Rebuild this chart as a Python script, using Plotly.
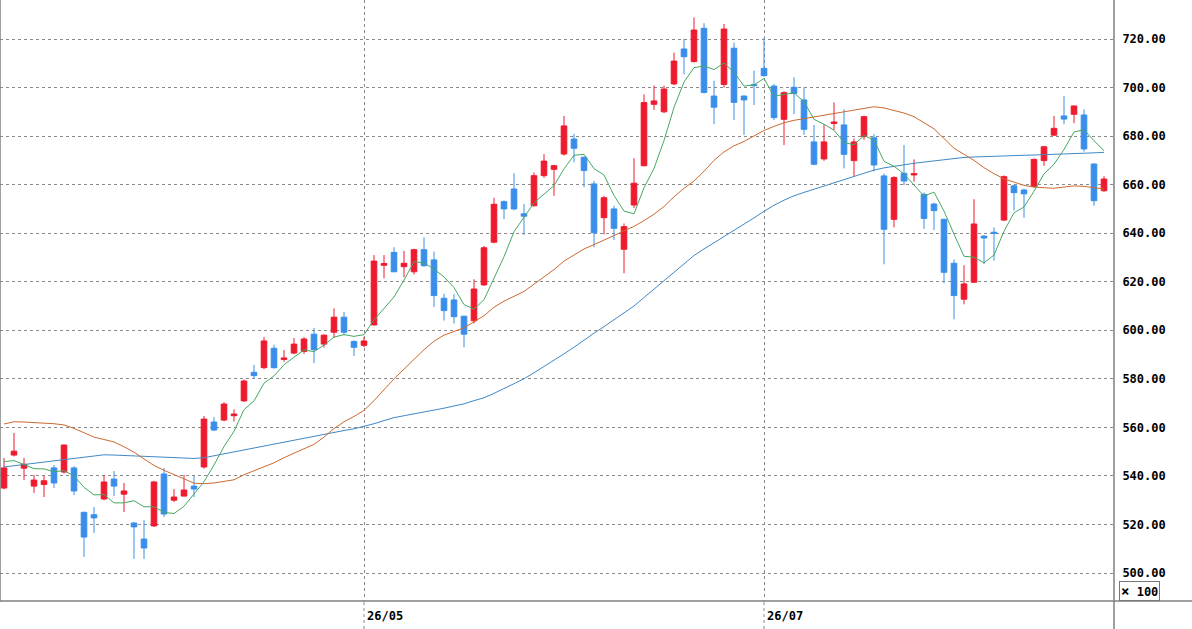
import plotly.graph_objects as go

# ---- data ----
opens = [535.0, 548.6, 543.2, 535.8, 536.5, 543.3, 541.6, 543.3, 525.0, 524.0,
         530.5, 538.7, 532.5, 520.6, 514.0, 519.4, 540.8, 530.0, 531.7, 535.8,
         543.7, 562.2, 563.0, 564.8, 570.9, 582.7, 584.6, 592.6, 588.0, 590.6,
         591.3, 598.4, 594.3, 599.2, 605.4, 595.4, 593.8, 602.2, 626.8, 632.1,
         626.2, 624.1, 633.2, 629.0, 613.2, 612.5, 605.8, 603.9, 618.7, 636.3,
         653.0, 658.2, 648.0, 651.3, 663.7, 666.3, 672.6, 678.8, 671.3, 660.3,
         646.4, 650.0, 633.4, 651.6, 667.8, 693.1, 690.0, 701.5, 715.9, 710.7,
         724.4, 696.5, 701.3, 716.2, 696.5, 701.2, 707.9, 700.6, 686.9, 700.1,
         694.9, 677.6, 670.6, 685.2, 684.6, 669.9, 679.8, 679.3, 663.6, 645.7,
         664.7, 664.0, 656.0, 652.0, 645.7, 627.6, 612.8, 619.8, 638.8, 640.4,
         645.4, 659.5, 657.8, 659.2, 669.9, 680.4, 688.3, 689.0, 688.7, 668.5,
         657.5]
highs = [547.4, 557.7, 547.4, 540.4, 540.0, 544.5, 553.0, 544.0, 525.3, 527.2,
         540.4, 542.0, 537.1, 521.0, 521.8, 538.0, 543.3, 534.6, 540.4, 540.0,
         564.7, 564.2, 570.4, 567.4, 579.8, 585.8, 597.2, 594.0, 591.9, 596.8,
         597.2, 601.0, 598.3, 609.0, 607.5, 595.8, 597.2, 631.0, 631.0, 634.2,
         632.7, 633.6, 638.3, 632.4, 615.0, 614.9, 606.0, 621.0, 634.8, 654.6,
         653.5, 664.7, 652.0, 665.0, 672.6, 668.2, 688.3, 680.9, 671.6, 661.5,
         655.4, 651.3, 644.0, 670.9, 697.2, 700.8, 700.8, 714.4, 720.0, 728.9,
         726.5, 702.8, 726.2, 718.5, 696.8, 707.0, 720.3, 701.5, 698.5, 704.2,
         700.1, 684.6, 684.9, 693.9, 691.0, 679.0, 688.4, 680.8, 664.5, 663.5,
         676.3, 670.4, 656.8, 652.5, 646.0, 629.2, 626.8, 654.0, 639.2, 642.4,
         663.8, 660.0, 658.3, 670.8, 676.0, 688.3, 696.5, 692.6, 691.0, 668.8,
         663.5]
lows = [534.5, 548.0, 538.3, 533.0, 531.3, 535.0, 541.0, 532.1, 506.6, 516.5,
        530.0, 531.7, 525.1, 505.8, 505.8, 519.0, 523.1, 529.2, 531.5, 531.3,
        543.0, 558.5, 562.5, 562.4, 570.5, 580.0, 584.0, 584.2, 587.0, 590.2,
        590.2, 586.5, 592.9, 596.9, 598.0, 589.4, 593.0, 602.0, 621.4, 624.0,
        621.9, 623.0, 626.2, 609.6, 604.0, 602.8, 593.0, 602.8, 618.3, 635.8,
        645.8, 649.5, 639.3, 651.0, 662.8, 655.4, 672.0, 669.2, 658.9, 634.2,
        639.5, 637.2, 623.5, 650.3, 667.5, 690.8, 689.5, 701.0, 705.5, 710.3,
        697.5, 684.9, 700.0, 686.6, 680.5, 692.8, 704.5, 686.6, 676.3, 689.1,
        680.5, 668.0, 669.8, 682.5, 666.7, 663.4, 678.5, 665.4, 627.2, 642.4,
        659.8, 661.2, 641.7, 641.3, 619.4, 604.5, 610.7, 619.5, 627.2, 628.7,
        645.0, 649.3, 646.4, 658.8, 667.7, 680.0, 684.9, 685.3, 673.6, 651.3,
        657.0]
closes = [543.3, 550.2, 544.8, 538.3, 538.0, 537.1, 552.7, 533.8, 514.8, 522.7,
          537.5, 535.8, 533.8, 519.0, 510.3, 537.5, 524.3, 531.3, 534.2, 534.6,
          563.4, 558.9, 569.6, 565.5, 579.1, 581.3, 595.6, 584.6, 588.6, 594.3,
          596.4, 592.0, 598.0, 605.4, 599.2, 593.0, 595.6, 628.5, 627.5, 624.1,
          627.6, 633.2, 626.6, 614.3, 608.1, 605.6, 598.4, 617.0, 634.0, 651.9,
          650.0, 650.0, 647.0, 663.7, 669.7, 667.8, 684.2, 675.0, 665.8, 640.2,
          654.6, 642.0, 642.7, 660.6, 693.8, 694.5, 699.4, 710.9, 712.7, 723.7,
          698.0, 691.9, 724.1, 693.9, 694.9, 700.8, 704.9, 687.6, 697.9, 697.6,
          682.8, 668.4, 677.6, 685.8, 672.5, 677.6, 688.0, 668.1, 641.6, 662.9,
          661.5, 664.5, 646.1, 649.3, 623.9, 614.3, 619.1, 643.8, 638.0, 640.0,
          663.3, 656.7, 656.2, 670.4, 675.6, 683.2, 687.0, 692.4, 674.7, 653.4,
          662.3]
ma_short = [545.9, 546.3, 544.7, 543.0, 542.9, 541.7, 542.2, 540.0, 535.3, 532.2,
            532.3, 528.9, 528.9, 529.8, 527.3, 527.3, 525.0, 524.5, 527.5, 532.4,
            537.6, 544.5, 552.1, 558.4, 567.3, 570.9, 578.2, 581.2, 585.8, 588.9,
            591.9, 591.2, 593.9, 597.2, 598.2, 597.5, 598.2, 604.3, 608.8, 613.7,
            620.7, 628.2, 627.8, 625.2, 622.0, 617.6, 610.6, 608.7, 612.6, 621.4,
            630.3, 640.6, 646.6, 652.5, 656.1, 659.6, 666.5, 672.1, 672.5, 666.6,
            664.0, 655.5, 649.1, 648.0, 658.7, 666.7, 678.2, 691.8, 702.3, 708.2,
            708.9, 707.4, 710.1, 706.3, 700.6, 701.1, 703.7, 696.4, 697.2, 697.8,
            694.2, 686.9, 684.9, 682.4, 677.4, 676.4, 680.3, 678.4, 669.6, 667.6,
            664.4, 659.7, 655.3, 656.9, 649.1, 639.6, 630.5, 630.1, 627.8, 631.0,
            640.8, 648.4, 650.8, 657.3, 664.4, 668.4, 674.5, 681.7, 682.6, 678.1,
            674.0]
ma_mid = [561.4, 562.3, 562.2, 562.0, 561.8, 561.5, 561.0, 559.6, 557.8, 556.0,
          555.0, 554.0, 552.0, 549.8, 547.0, 544.3, 542.3, 540.4, 538.8, 537.0,
          536.8, 537.1, 537.6, 538.4, 540.5, 542.2, 543.8, 545.4, 547.5, 549.5,
          551.2, 553.0, 556.0, 559.5, 562.3, 564.5, 567.0, 571.0, 575.5, 580.0,
          584.0, 588.0, 592.0, 595.5, 598.0, 599.5, 601.0, 603.5, 606.0, 609.5,
          612.0, 614.0, 616.0, 619.0, 622.0, 625.0, 628.5, 631.0, 633.5, 635.3,
          637.0, 639.0, 641.0, 642.8, 645.2, 647.8, 651.0, 655.0, 658.5, 661.5,
          665.5, 670.0, 673.5, 676.0, 677.8, 680.0, 682.3, 684.0, 685.5, 686.5,
          687.2, 688.0, 688.7, 689.2, 689.8, 690.6, 691.5, 692.1, 691.6, 690.7,
          689.5, 688.0, 685.5, 683.0, 679.0, 675.0, 672.5, 670.0, 667.0, 664.5,
          662.4, 661.0, 659.7, 659.0, 658.7, 658.5, 659.0, 659.5, 659.3, 658.7,
          658.2]
ma_long = [543.7, 544.2, 544.7, 545.2, 545.7, 546.2, 546.7, 547.3, 547.9, 548.4,
           548.7, 548.6, 548.4, 548.2, 548.0, 547.8, 547.6, 547.4, 547.3, 547.2,
           547.5, 548.3, 549.0, 549.9, 550.8, 551.6, 552.4, 553.3, 554.1, 554.9,
           555.7, 556.5, 557.3, 558.0, 558.7, 559.4, 560.3, 561.5, 562.8, 564.0,
           564.8, 565.5, 566.2, 567.0, 567.9, 568.8, 569.7, 571.0, 572.2, 574.0,
           576.0, 578.0, 580.0, 582.5, 585.0, 587.5, 590.3, 593.0, 596.0, 598.8,
           601.5, 604.3, 607.0, 610.0, 613.5, 617.0, 620.5, 624.0, 627.5, 630.8,
           633.5, 636.0, 638.6, 641.0, 643.5, 646.3, 649.0, 651.5, 653.6, 655.4,
           656.8, 658.1, 659.4, 660.6, 661.8, 663.2, 664.7, 666.0, 666.9, 667.6,
           668.3, 668.8, 669.3, 669.8, 670.3, 670.8, 671.2, 671.4, 671.6, 671.8,
           671.9, 672.0, 672.1, 672.2, 672.3, 672.5, 672.6, 672.8, 673.0, 673.1,
           673.3]
date_tick_pos = [36, 76]
date_tick_text = ["26/05", "26/07"]
price_ticks = [500, 520, 540, 560, 580, 600, 620, 640, 660, 680, 700, 720]
scale_label = "<span style='font-size:14px'>×</span> 100"

# ---- figure ----
W, H = 1192, 629
ML, MR, MT, MB = 0, 78, 0, 28
plot_w = W - ML - MR
plot_h = H - MT - MB
xr = [-0.4, 111.0]
yr = [488.47, 736.07]

idx = list(range(len(closes)))

RED = "#ee1a2e"
BLUE = "#3a8eea"
GRID = "#8a8a8a"
AXIS = "#808080"

fig = go.Figure()
fig.add_trace(go.Candlestick(
    x=idx, open=opens, high=highs, low=lows, close=closes,
    increasing=dict(line=dict(color=RED, width=1), fillcolor=RED),
    decreasing=dict(line=dict(color=BLUE, width=1), fillcolor=BLUE),
    whiskerwidth=0, hoverinfo="skip", showlegend=False,
))
fig.add_trace(go.Scatter(x=idx, y=ma_long, mode="lines",
                         line=dict(color="#3f89c6", width=1),
                         hoverinfo="skip", showlegend=False))
fig.add_trace(go.Scatter(x=idx, y=ma_mid, mode="lines",
                         line=dict(color="#cc6a30", width=1),
                         hoverinfo="skip", showlegend=False))
fig.add_trace(go.Scatter(x=idx, y=ma_short, mode="lines",
                         line=dict(color="#46a862", width=1),
                         hoverinfo="skip", showlegend=False))

tick_font = dict(family="DejaVu Sans Mono", size=12, color="#000000", weight="bold")

shapes = []
# bottom frame line extending to the right edge
shapes.append(dict(type="line", xref="paper", yref="paper", x0=0, x1=W / plot_w,
                   y0=0, y1=0, line=dict(color=AXIS, width=1.5)))
# right axis line extending down
shapes.append(dict(type="line", xref="paper", yref="paper", x0=1, x1=1,
                   y0=-MB / plot_h, y1=1, line=dict(color=AXIS, width=1.5)))
# left frame
shapes.append(dict(type="line", xref="paper", yref="paper", x0=0, x1=0,
                   y0=0, y1=1, line=dict(color=AXIS, width=1.5)))
# date gridlines continuing below the plot
for p in date_tick_pos:
    xp = (p - xr[0]) / (xr[1] - xr[0])
    shapes.append(dict(type="line", xref="paper", yref="paper", x0=xp, x1=xp,
                       y0=-MB / plot_h, y1=0,
                       line=dict(color=GRID, width=1, dash="3px,3px")))

annotations = []
for p, t in zip(date_tick_pos, date_tick_text):
    annotations.append(dict(x=p, xref="x", y=-15 / plot_h, yref="paper",
                            text=t, showarrow=False, xanchor="left",
                            yanchor="middle", xshift=1, font=tick_font))
annotations.append(dict(x=1139.5 / plot_w, xref="paper", y=10 / plot_h, yref="paper",
                        text=scale_label, showarrow=False, xanchor="center",
                        yanchor="middle", font=tick_font,
                        bordercolor="#777777", borderwidth=1, borderpad=1,
                        bgcolor="white"))

fig.update_layout(
    width=W, height=H,
    margin=dict(l=ML, r=MR, t=MT, b=MB, pad=0),
    paper_bgcolor="white", plot_bgcolor="white",
    boxgap=0.2,
    showlegend=False,
    hovermode=False,
    shapes=shapes,
    annotations=annotations,
    xaxis=dict(
        range=xr, type="linear", rangeslider=dict(visible=False),
        tickvals=date_tick_pos, ticktext=date_tick_text, showticklabels=False,
        showgrid=True, gridcolor=GRID, griddash="3px,3px", gridwidth=1,
        zeroline=False, showline=False, ticks="", fixedrange=True,
    ),
    yaxis=dict(
        range=yr, side="right", tickvals=price_ticks,
        ticktext=[f"{v:.2f}" for v in price_ticks],
        showgrid=True, gridcolor=GRID, griddash="3px,3px", gridwidth=1,
        zeroline=False, showline=False,
        ticks="outside", ticklen=5, tickcolor="rgba(0,0,0,0)",
        tickfont=tick_font, fixedrange=True,
    ),
)

fig.write_html(
    "out.html",
    config={"displayModeBar": False},
    post_script="document.body.style.margin='0';document.body.style.overflow='hidden';",
)
